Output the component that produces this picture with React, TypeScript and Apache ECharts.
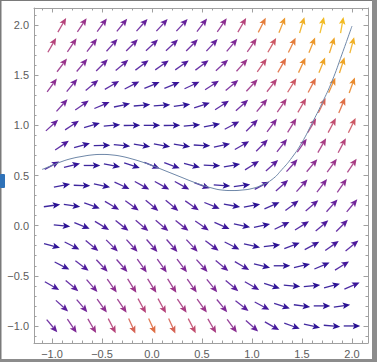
import React, { useEffect, useRef } from "react";
import * as echarts from "echarts";

// Sample positions of the arrows (Mathematica hexagonal layout)
const rowYs = [2.0, 1.8, 1.6, 1.4, 1.2, 1.0, 0.8, 0.6, 0.4, 0.2, 0.0, -0.2, -0.4, -0.6, -0.8, -1.0];
const xGrid = [-1.0, -0.8, -0.6, -0.4, -0.2, 0.0, 0.2, 0.4, 0.6, 0.8, 1.0, 1.2, 1.4, 1.6, 1.8, 2.0];
const xOffset = [-0.9, -0.7, -0.5, -0.3, -0.1, 0.1, 0.3, 0.5, 0.7, 0.9, 1.1, 1.3, 1.5, 1.7, 1.9];

// Arrow directions (degrees, counter-clockwise from +x), read row by row
const a20 = [60, 56, 54, 51, 48, 47, 47, 52, 55, 60, 63, 68, 73, 76, 80];
const a18 = [60, 56, 52, 48, 45, 43, 43, 45, 47, 50, 55, 60, 64, 68, 72, 75];
const a16 = [53, 50, 45, 40, 37, 35, 35, 37, 42, 48, 55, 60, 65, 68, 72];
const a14 = [54, 50, 40, 30, 27, 23, 23, 25, 33, 40, 47, 52, 58, 62, 66, 70];
const a12 = [48, 35, 23, 12, 5, 4, 8, 18, 33, 42, 50, 55, 60, 64, 67];
const a10 = [42, 33, 16, 5, 1, 0, 1, 5, 11, 28, 45, 53, 58, 60, 62, 64];
const a08 = [34, 16, 1, -6, -9, -10, -9, -3, 12, 30, 45, 52, 55, 60, 62];
const a06 = [28, 14, 0, -11, -18, -22, -20, -15, -2, 10, 32, 42, 48, 50, 54, 56];
const a04 = [11, -2, -12, -25, -29, -29, -29, -20, -4, 8, 28, 42, 48, 52, 55];
const a02 = [8, -8, -20, -31, -36, -40, -40, -35, -22, -10, 10, 24, 37, 40, 48, 50];
const a00 = [-6, -22, -31, -39, -40, -40, -39, -35, -24, -12, 12, 26, 32, 40, 45];
const am02 = [-15, -27, -40, -45, -48, -49, -49, -47, -37, -27, -13, 7, 21, 28, 35, 39];
const am04 = [-27, -37, -47, -49, -55, -55, -53, -48, -40, -30, -13, 0, 13, 23, 32];
const am06 = [-30, -40, -49, -55, -58, -58, -58, -55, -51, -40, -30, -18, -5, 6, 15, 23];
const am08 = [-42, -50, -54, -56, -61, -61, -56, -54, -51, -38, -28, -18, -8, 0, 8];
const am10 = [-50, -56, -60, -63, -66, -66, -66, -63, -60, -54, -42, -30, -20, -12, -5, 0];
const rowAngles = [a20, a18, a16, a14, a12, a10, a08, a06, a04, a02, a00, am02, am04, am06, am08, am10];

// Vector magnitude levels (0 = smallest, 12 = largest)
const m20 = [7, 6, 5, 4.5, 4, 4, 4, 4.5, 5.5, 7, 9.5, 10.5, 11.5, 12, 12];
const m18 = [7, 6, 5, 4, 4, 3.5, 3.5, 4, 4, 5, 6.5, 8, 9.5, 10.5, 11, 11.5];
const m16 = [6, 5, 4, 3.5, 3, 3, 3, 3.5, 4.5, 6, 7.5, 9, 10, 11, 11];
const m14 = [5.5, 4.5, 3.5, 3, 2.5, 2, 2, 2.5, 3.5, 4.5, 6, 7, 8, 9, 10, 10];
const m12 = [4.5, 3.5, 2.5, 1.5, 1, 1, 1, 2, 3, 4, 5.5, 6.5, 7.5, 8.5, 9];
const m10 = [4, 3, 1.5, 1, 0.5, 0.5, 0.5, 0.5, 1, 2.5, 3.5, 5, 6, 7, 7.5, 8];
const m08 = [3, 1.5, 0.5, 0.5, 0.5, 0.5, 0.5, 0.5, 1.5, 2.5, 3.5, 4.5, 5.5, 6.5, 7];
const m06 = [2.5, 1.5, 0.5, 0.5, 1, 1.5, 1.5, 1, 0.5, 1, 2.5, 3.5, 4.5, 5.5, 6, 6.5];
const m04 = [1, 0.5, 1, 2, 2.5, 2.5, 2.5, 2, 0.5, 1, 2.5, 3.5, 4.5, 5, 5.5];
const m02 = [0.5, 0.5, 1.5, 2.5, 3, 3, 3, 3, 2, 1, 0.5, 1.5, 2.5, 3.5, 4, 4.5];
const m00 = [0.5, 1.5, 2.5, 3, 3.5, 3.5, 3.5, 3, 2, 1, 1, 2, 2.5, 3, 3.5];
const mm02 = [1, 2, 3, 3.5, 4, 4, 4, 4, 3, 2, 1, 0.5, 1.5, 2, 2.5, 3];
const mm04 = [2, 3, 4, 4.5, 5, 5, 5, 4.5, 3.5, 2.5, 1, 0.5, 1, 1.5, 2.5];
const mm06 = [2.5, 3.5, 4.5, 5.5, 6, 6, 6, 5.5, 5, 3.5, 2.5, 1, 0.5, 0.5, 1, 2];
const mm08 = [3.5, 4.5, 5.5, 6, 7, 7, 6.5, 6, 5, 3.5, 2.5, 1.5, 0.5, 0.5, 0.5];
const mm10 = [4, 5, 6, 7, 8.5, 9, 8.5, 7.5, 6.5, 5.5, 4, 2.5, 1.5, 1, 0.5, 0];
const rowMags = [m20, m18, m16, m14, m12, m10, m08, m06, m04, m02, m00, mm02, mm04, mm06, mm08, mm10];

// Solution curve
const curveX = [-1.1, -1.0, -0.9, -0.8, -0.7, -0.6, -0.5, -0.4, -0.3, -0.2, -0.1, 0.0, 0.1, 0.2, 0.3, 0.4, 0.5, 0.6, 0.7, 0.8, 0.9, 1.0, 1.1, 1.2, 1.3, 1.4, 1.5, 1.6, 1.7, 1.8, 1.9, 2.0];
const curveY = [0.56, 0.6, 0.64, 0.67, 0.69, 0.705, 0.71, 0.705, 0.69, 0.665, 0.635, 0.6, 0.56, 0.52, 0.48, 0.44, 0.405, 0.375, 0.355, 0.35, 0.355, 0.37, 0.405, 0.46, 0.56, 0.68, 0.83, 1.02, 1.22, 1.44, 1.71, 1.99];

const majorTicks = [-1.0, -0.5, 0.0, 0.5, 1.0, 1.5, 2.0];
const minorTicks = [-1.1, -1.0, -0.9, -0.8, -0.7, -0.6, -0.5, -0.4, -0.3, -0.2, -0.1, 0.0, 0.1, 0.2, 0.3, 0.4, 0.5, 0.6, 0.7, 0.8, 0.9, 1.0, 1.1, 1.2, 1.3, 1.4, 1.5, 1.6, 1.7, 1.8, 1.9, 2.0, 2.1];

const palette = [
  "#250e90", "#2c1296", "#3a1599", "#4d199c", "#64209b", "#7e2896", "#9a348a",
  "#b5437a", "#cc5763", "#df6e44", "#e98a2d", "#eea424", "#f2ba20",
];

function hexToRgb(h: string) {
  const n = parseInt(h.slice(1), 16);
  return [(n >> 16) & 255, (n >> 8) & 255, n & 255];
}
function colorFor(level: number) {
  const l = Math.max(0, Math.min(palette.length - 1, level));
  const i = Math.min(palette.length - 2, Math.floor(l));
  const t = l - i;
  const r0 = hexToRgb(palette[i]), r1 = hexToRgb(palette[i + 1]);
  const m = r0.map((v, k) => Math.round(v + (r1[k] - v) * t));
  return `rgb(${m[0]},${m[1]},${m[2]})`;
}

const XMIN = -1.18, XMAX = 2.16, YMIN = -1.17, YMAX = 2.17;

export default function App() {
  const ref = useRef<HTMLDivElement>(null);
  useEffect(() => {
    if (!ref.current) return;
    const chart = echarts.init(ref.current, null, { renderer: "svg" });

    const arrowData: number[][] = [];
    rowYs.forEach((y, r) => {
      const xs = r % 2 === 0 ? xOffset : xGrid;
      const angs = rowAngles[r];
      const mags = rowMags[r];
      xs.forEach((x, i) => arrowData.push([x, y, angs[i], mags[i]]));
    });
    const curveData = curveX.map((x, i) => [x, curveY[i]]);

    const labelFmt = (v: number) => (v < 0 ? "\u2212" + Math.abs(v).toFixed(1) : v.toFixed(1));
    const lineStyle = { color: "#a0a0a0", width: 1 };
    const tickStyle = { color: "#a0a0a0", width: 1 };
    const labelStyle = { color: "#5c5c5c", fontSize: 11, fontFamily: "Liberation Sans, Arial, sans-serif" };

    const mkX = (pos: "bottom" | "top", major: boolean, labels: boolean) => ({
      type: "value",
      min: XMIN,
      max: XMAX,
      position: pos,
      axisLine: { show: major, onZero: false, lineStyle },
      axisTick: { show: true, inside: true, length: major ? 4.5 : 2.5, lineStyle: tickStyle, customValues: major ? majorTicks : minorTicks },
      axisLabel: labels
        ? { show: true, margin: 5, customValues: majorTicks, formatter: labelFmt, ...labelStyle }
        : { show: false },
      splitLine: { show: false },
    });
    const mkY = (pos: "left" | "right", major: boolean, labels: boolean) => ({
      type: "value",
      min: YMIN,
      max: YMAX,
      position: pos,
      axisLine: { show: major, onZero: false, lineStyle },
      axisTick: { show: true, inside: true, length: major ? 4.5 : 2.5, lineStyle: tickStyle, customValues: major ? majorTicks : minorTicks },
      axisLabel: labels
        ? { show: true, margin: 5, customValues: majorTicks, formatter: labelFmt, ...labelStyle }
        : { show: false },
      splitLine: { show: false },
    });

    chart.setOption({
      animation: false,
      backgroundColor: "#ffffff",
      grid: { left: 34, top: 8, right: 9, bottom: 19, containLabel: false },
      xAxis: [mkX("bottom", true, true), mkX("bottom", false, false), mkX("top", true, false), mkX("top", false, false)],
      yAxis: [mkY("left", true, true), mkY("left", false, false), mkY("right", true, false), mkY("right", false, false)],
      graphic: [
        { type: "rect", left: 0, top: 0, shape: { x: 0, y: 0, width: 377, height: 1 }, style: { fill: "#7a7a7a" }, silent: true },
        { type: "rect", left: 0, top: 0, shape: { x: 0, y: 0, width: 1.5, height: 362 }, style: { fill: "#7a7a7a" }, silent: true },
        { type: "rect", right: 0, top: 0, shape: { x: 0, y: 0, width: 5, height: 362 }, style: { fill: "#8c8c8c" }, silent: true },
        { type: "rect", left: 0, bottom: 0, shape: { x: 0, y: 0, width: 377, height: 3 }, style: { fill: "#8c8c8c" }, silent: true },
        { type: "rect", left: 0, top: 174, shape: { x: 0, y: 0, width: 5, height: 14, r: 1 }, style: { fill: "#2f72b8" }, silent: true },
      ],
      series: [
        {
          type: "custom",
          coordinateSystem: "cartesian2d",
          xAxisIndex: 0,
          yAxisIndex: 0,
          data: arrowData,
          z: 3,
          renderItem: (params: any, api: any) => {
            const x = api.value(0), y = api.value(1), ang = api.value(2), mag = api.value(3);
            const c = api.coord([x, y]);
            const rad = (ang * Math.PI) / 180;
            const dx = Math.cos(rad), dy = -Math.sin(rad);
            const L = 16.5, head = 7.5, hw = 3.3;
            const tail = [c[0] - (dx * L) / 2, c[1] - (dy * L) / 2];
            const tip = [c[0] + (dx * L) / 2, c[1] + (dy * L) / 2];
            const base = [tip[0] - dx * head, tip[1] - dy * head];
            const notch = [base[0] + dx * 1.6, base[1] + dy * 1.6];
            const px = -dy, py = dx;
            const col = colorFor(mag);
            return {
              type: "group",
              children: [
                { type: "line", shape: { x1: tail[0], y1: tail[1], x2: notch[0], y2: notch[1] }, style: { stroke: col, lineWidth: 1.3, opacity: 0.9 } },
                {
                  type: "polygon",
                  shape: { points: [tip, [base[0] + px * hw, base[1] + py * hw], notch, [base[0] - px * hw, base[1] - py * hw]] },
                  style: { fill: col },
                },
              ],
            };
          },
        },
        {
          type: "line",
          xAxisIndex: 0,
          yAxisIndex: 0,
          data: curveData,
          showSymbol: false,
          smooth: true,
          z: 4,
          lineStyle: { color: "#6e87a8", width: 1 },
        },
      ],
    });
    return () => chart.dispose();
  }, []);
  return <div ref={ref} style={{ position: "absolute", left: 0, top: 0, width: 377, height: 362 }} />;
}
